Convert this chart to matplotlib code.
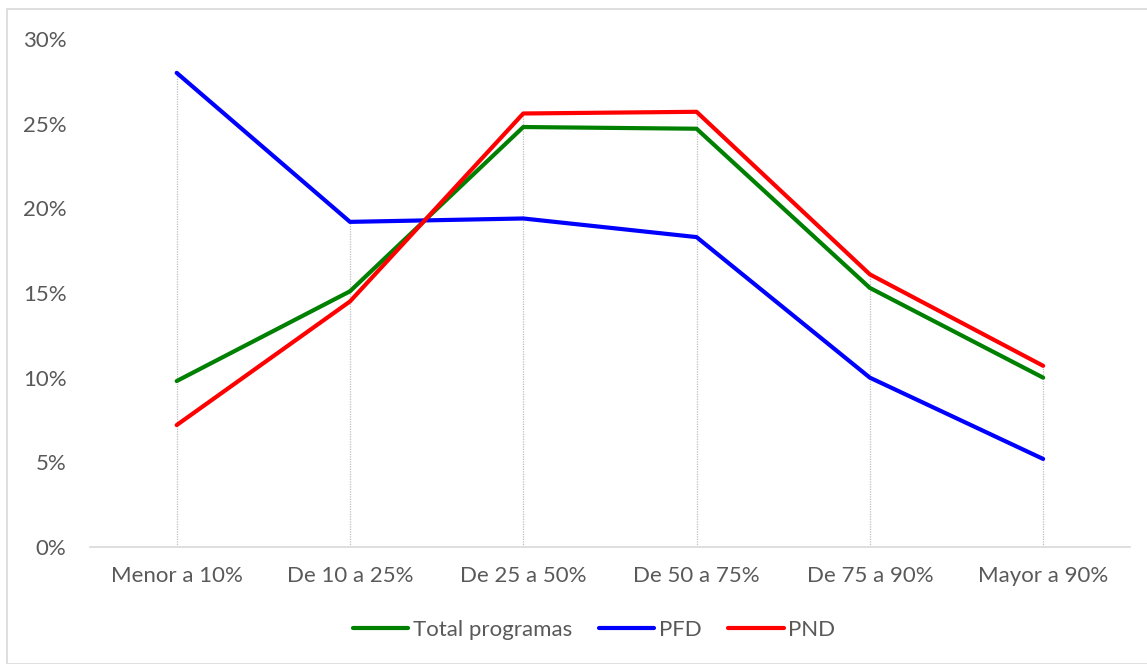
import matplotlib.pyplot as plt
from matplotlib.patches import Rectangle

categories = ['Menor a 10%', 'De 10 a 25%', 'De 25 a 50%', 'De 50 a 75%', 'De 75 a 90%', 'Mayor a 90%']
total = [9.8, 15.1, 24.8, 24.7, 15.3, 10.0]
pfd = [28.0, 19.2, 19.4, 18.3, 10.0, 5.2]
pnd = [7.2, 14.5, 25.6, 25.7, 16.1, 10.7]
y_ticks = [0, 5, 10, 15, 20, 25, 30]

plt.rcParams['font.family'] = ['Lato', 'DejaVu Sans']
text_color = '#595959'
fs = 16

fig = plt.figure(figsize=(11.47, 6.64), dpi=100)
ax = fig.add_axes([0.0785, 0.1762, 0.9065, 0.7651])

x = list(range(len(categories)))

# drop lines from the highest point down to the axis
for i in x:
    top = max(total[i], pfd[i], pnd[i])
    ax.vlines(i, 0, top, colors='#bfbfbf', linestyles=(0, (1, 1)), linewidth=0.9, zorder=1)

ax.plot(x, total, color='#008000', linewidth=3, label='Total programas', solid_capstyle='round', zorder=3)
ax.plot(x, pfd, color='#0000ff', linewidth=3, label='PFD', solid_capstyle='round', zorder=3)
ax.plot(x, pnd, color='#ff0000', linewidth=3, label='PND', solid_capstyle='round', zorder=4)

ax.set_xlim(-0.5, len(categories) - 0.5)
ax.set_ylim(0, 30)
ax.set_yticks(y_ticks)
ax.set_yticklabels([f'{t}%' for t in y_ticks])
ax.set_xticks(x)
ax.set_xticklabels(categories)
ax.tick_params(axis='both', length=0, labelsize=fs, colors=text_color)
ax.tick_params(axis='x', pad=14)
ax.tick_params(axis='y', pad=17)

for s in ['top', 'right', 'left']:
    ax.spines[s].set_visible(False)
ax.spines['bottom'].set_color('#d9d9d9')
ax.spines['bottom'].set_linewidth(1.2)

leg = fig.legend(loc='center', bbox_to_anchor=(0.518, 0.051), ncol=3, frameon=False,
                 fontsize=fs, handlelength=2.5, columnspacing=1.2, handletextpad=0.2)
for t in leg.get_texts():
    t.set_color(text_color)

fig.patches.append(Rectangle((7 / 1147, 0), 1.0, 1 - 9 / 664, transform=fig.transFigure,
                             fill=False, edgecolor='#d9d9d9', linewidth=1.2))

fig.savefig('out.png', dpi=100)
